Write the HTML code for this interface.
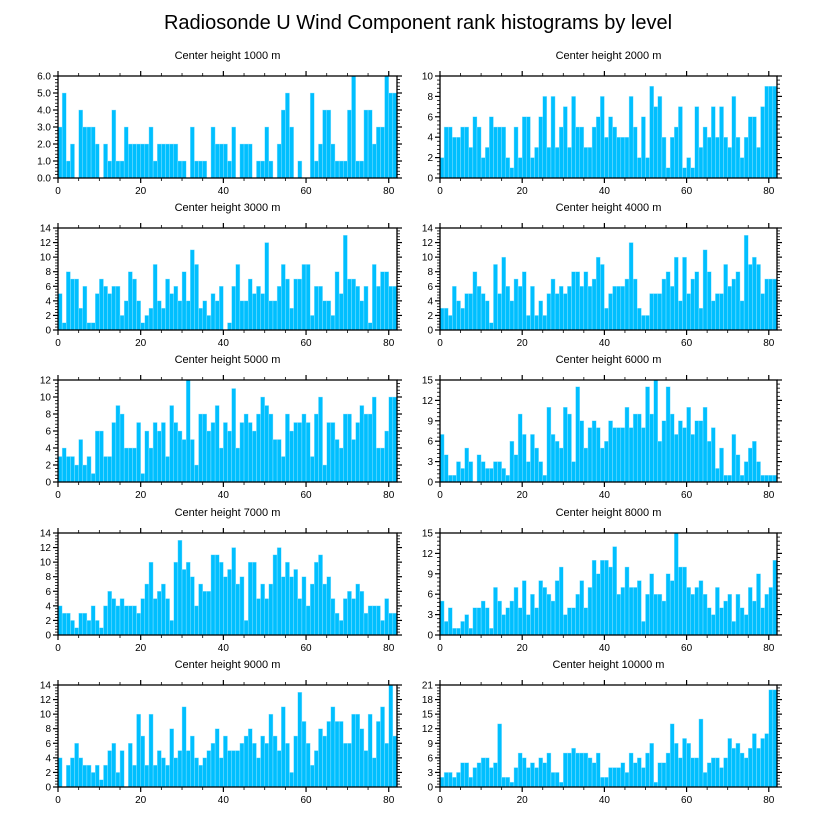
<!DOCTYPE html>
<html><head><meta charset="utf-8">
<style>
html,body{margin:0;padding:0;background:#fff;}
svg{display:block;font-family:"Liberation Sans",sans-serif;}
</style></head>
<body>
<svg id="chart" width="818" height="824" viewBox="0 0 818 824" xmlns="http://www.w3.org/2000/svg">
<text x="418" y="29" text-anchor="middle" font-size="20" fill="#000">Radiosonde U Wind Component rank histograms by level</text>
</svg>
<script>
const titles = ["Center height 1000 m","Center height 2000 m","Center height 3000 m","Center height 4000 m","Center height 5000 m","Center height 6000 m","Center height 7000 m","Center height 8000 m","Center height 9000 m","Center height 10000 m"];
const yMaxes = [6,10,14,14,12,15,14,15,14,21];
const yTickSteps = [1,2,2,2,2,3,2,3,2,3];
const xTicks = [0,20,40,60,80];
const p1 = [3,5,1,2,0,4,3,3,3,2,0,2,1,4,1,1,3,2,2,2,2,2,3,1,2,2,2,2,2,1,1,0,3,1,1,1,0,3,2,2,2,1,3,0,2,2,2,0,1,1,3,1,0,2,4,5,3,0,1,0,0,5,1,2,4,4,2,1,1,1,4,6,1,1,4,4,2,3,3,6,5,5];
const p2 = [2,5,5,4,4,5,5,3,6,5,2,3,6,5,5,5,2,1,5,2,6,6,2,3,6,8,3,8,3,5,7,3,8,5,5,3,3,5,6,8,4,6,5,4,4,4,8,5,2,6,2,9,7,8,4,1,4,5,7,1,2,1,7,3,5,4,7,4,7,4,3,8,4,2,4,6,6,3,7,9,9,9];
const p3 = [5,1,8,7,7,3,6,1,1,5,7,6,5,6,6,2,4,8,7,4,1,2,3,9,4,3,7,5,6,4,8,4,11,9,3,4,2,5,4,6,0,1,6,9,4,4,7,5,6,5,12,4,4,6,9,7,3,7,7,9,9,2,6,6,4,4,2,8,5,13,7,7,6,4,6,1,9,6,8,8,6,6];
const p4 = [3,3,2,6,4,3,5,5,8,6,5,4,1,9,5,10,6,4,7,6,8,2,6,2,4,2,5,7,5,6,5,6,8,8,6,8,6,7,10,9,3,5,6,6,6,7,12,7,3,2,2,5,5,5,7,8,6,10,4,10,5,7,8,3,11,8,4,5,5,9,6,7,8,4,13,9,10,9,5,7,7,7];
const p5 = [3,4,3,3,2,5,2,3,1,6,6,3,3,7,9,8,4,4,4,7,1,6,4,7,6,7,3,9,7,6,5,12,5,2,8,8,6,7,9,4,7,6,11,4,7,8,7,6,8,10,9,8,5,5,3,8,6,7,7,8,7,3,8,10,2,7,7,5,4,8,8,5,7,9,8,8,10,4,4,6,10,10];
const p6 = [7,4,1,1,3,2,5,3,0,4,3,2,2,3,3,2,1,6,4,10,7,3,7,5,3,1,11,7,6,5,11,10,3,14,9,5,8,9,8,5,6,9,8,8,8,11,8,10,10,8,14,10,15,6,9,14,10,7,9,8,11,7,9,9,11,6,8,2,5,1,1,7,4,1,3,5,6,3,1,1,1,1];
const p7 = [4,3,3,2,1,3,3,2,4,2,1,4,6,5,4,5,4,4,4,3,5,7,10,5,6,7,5,2,10,13,9,10,8,4,7,6,6,11,11,10,8,9,12,7,8,2,10,10,5,7,5,7,11,12,8,10,8,9,5,8,4,7,10,11,7,8,5,3,2,5,6,5,7,6,3,4,4,4,2,5,3,3];
const p8 = [5,2,4,1,1,2,3,1,4,4,5,4,1,7,5,3,4,5,7,4,8,3,6,4,8,7,6,5,8,10,3,4,4,6,8,4,7,11,9,11,11,10,13,6,7,10,7,7,8,2,6,9,6,6,5,9,8,15,10,10,7,6,7,8,6,4,3,7,4,5,6,2,6,4,3,7,5,9,4,6,7,11];
const p9 = [4,0,3,4,6,4,3,3,2,3,1,3,5,6,2,5,0,6,3,10,7,3,10,3,5,4,3,8,4,5,11,5,7,4,3,4,5,6,8,4,7,5,5,5,6,7,8,6,4,7,6,10,7,5,11,6,2,7,13,9,6,3,5,8,7,9,11,9,9,6,6,10,10,8,5,10,4,9,11,6,14,7];
const p10 = [2,3,3,2,3,5,5,2,4,5,6,6,4,5,13,2,2,1,4,7,6,4,5,4,6,5,7,3,3,1,7,7,8,7,7,7,6,5,7,2,2,4,4,4,5,3,7,5,6,4,7,9,1,5,5,7,13,9,6,10,9,6,6,14,3,5,6,6,4,6,10,8,9,7,6,8,11,8,10,11,20,20];
const series = [p1,p2,p3,p4,p5,p6,p7,p8,p9,p10];

const NS = "http://www.w3.org/2000/svg";
const svg = document.getElementById("chart");
const X_MAX = 82;
function mk(tag, attrs, parent){
  const e = document.createElementNS(NS, tag);
  for (const k in attrs) e.setAttribute(k, attrs[k]);
  parent.appendChild(e);
  return e;
}
const colLeft = [58, 440];
const colW = [339, 337];
const rowTop = [76, 228, 380, 533, 685];
const PH = 102;

series.forEach((vals, idx) => {
  const col = idx % 2, row = Math.floor(idx / 2);
  const L = colLeft[col], W = colW[col], T = rowTop[row], B = T + PH;
  const yMax = yMaxes[idx], step = yTickSteps[idx];
  const xs = v => L + v / X_MAX * W;
  const ys = v => B - v / yMax * PH;
  const g = mk("g", {}, svg);
  
  

  const t = mk("text", {x: L + W/2, y: T - 17, "text-anchor": "middle", "font-size": "11"}, g);
  t.textContent = titles[idx];
  
  

  vals.forEach((v, i) => {
    if (v <= 0) return;
    const x0 = xs(i), x1 = Math.min(xs(i + 1), L + W);
    const r = mk("rect", {x: x0, y: ys(v), width: x1 - x0, height: B - ys(v), fill: "#00bfff", stroke: "#9fe6ff", "stroke-width": "0.4"}, g);
    
    
  });

  const f = mk("rect", {x: L, y: T, width: W, height: PH, fill: "none", stroke: "#000", "stroke-width": "1.3"}, g);
  
  

  // x ticks (minor every 5, major every 20), bottom and top, outward
  for (let v = 0; v <= X_MAX; v += 5) {
    const major = v % 20 === 0;
    const len = major ? 5 : 3;
    const x = xs(v);
    mk("line", {x1: x, x2: x, y1: B, y2: B + len, stroke: "#000", "stroke-width": major ? 1.2 : 0.8}, g);
    mk("line", {x1: x, x2: x, y1: T, y2: T - len, stroke: "#000", "stroke-width": major ? 1.2 : 0.8}, g);
  }
  xTicks.forEach(v => {
    const tl = mk("text", {x: xs(v), y: B + 16, "text-anchor": "middle", "font-size": "10"}, g);
    tl.textContent = v;
    
    
  });
  // y ticks
  const minor = step / 5;
  for (let k = 0; k * minor <= yMax + 1e-9; k++) {
    const v = k * minor;
    const major = k % 5 === 0;
    const len = major ? 5 : 3;
    const y = ys(v);
    mk("line", {x1: L, x2: L - len, y1: y, y2: y, stroke: "#000", "stroke-width": major ? 1.2 : 0.8}, g);
    mk("line", {x1: L + W, x2: L + W + len, y1: y, y2: y, stroke: "#000", "stroke-width": major ? 1.2 : 0.8}, g);
  }
  for (let v = 0; v <= yMax + 1e-9; v += step) {
    const yl = mk("text", {x: L - 7, y: ys(v) + 3.5, "text-anchor": "end", "font-size": "10"}, g);
    yl.textContent = step === 1 ? v.toFixed(1) : String(v);
    
    
  }
});
</script>
</body></html>
